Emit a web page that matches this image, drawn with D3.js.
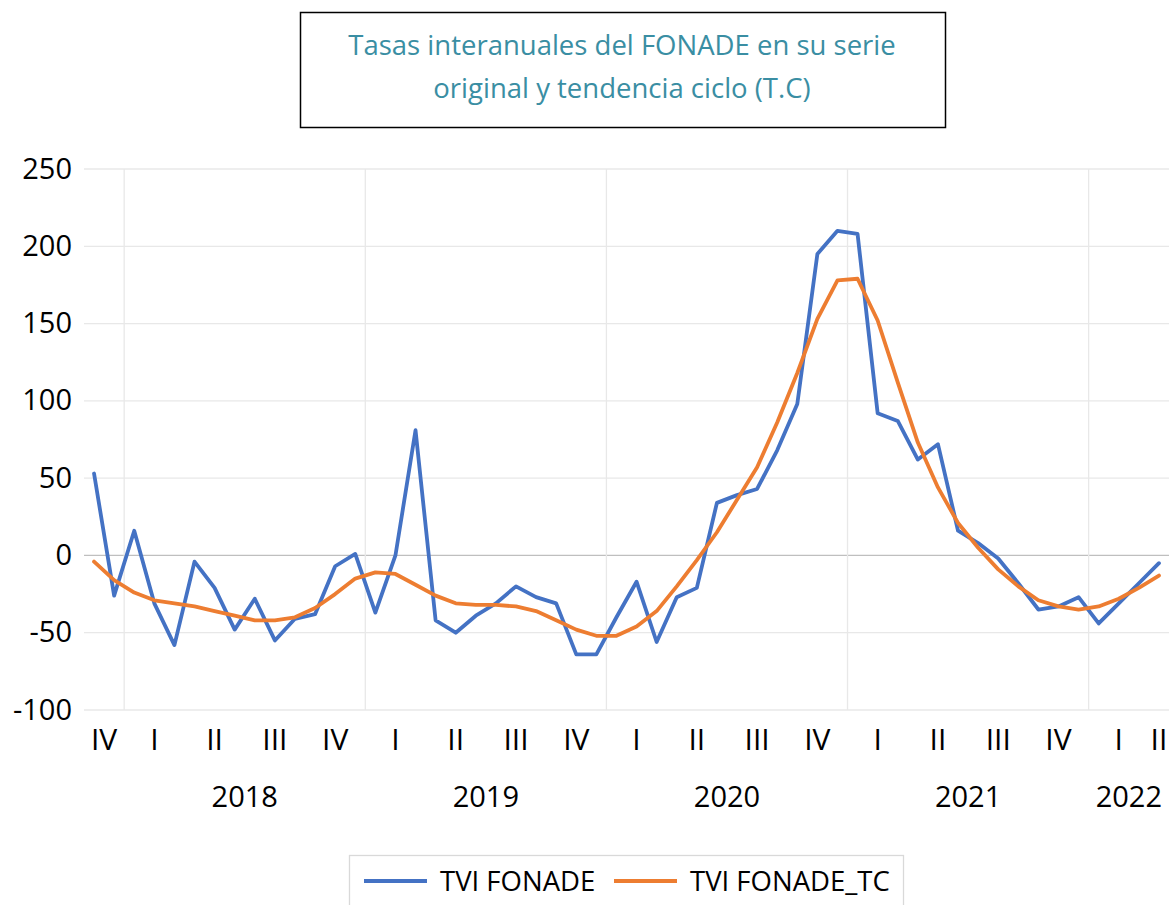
<!DOCTYPE html>
<html>
<head>
<meta charset="utf-8">
<script src="https://cdn.jsdelivr.net/npm/d3@7"></script>
<style>
  body { margin:0; background:#fff; }
  svg text { font-family:"Open Sans", "Noto Sans", sans-serif; }
</style>
</head>
<body>
<div id="chart"></div>
<script>
// monthly categories, Nov 2017 .. Apr 2022
const months = [
  "2017-11","2017-12",
  "2018-01","2018-02","2018-03","2018-04","2018-05","2018-06","2018-07","2018-08","2018-09","2018-10","2018-11","2018-12",
  "2019-01","2019-02","2019-03","2019-04","2019-05","2019-06","2019-07","2019-08","2019-09","2019-10","2019-11","2019-12",
  "2020-01","2020-02","2020-03","2020-04","2020-05","2020-06","2020-07","2020-08","2020-09","2020-10","2020-11","2020-12",
  "2021-01","2021-02","2021-03","2021-04","2021-05","2021-06","2021-07","2021-08","2021-09","2021-10","2021-11","2021-12",
  "2022-01","2022-02","2022-03","2022-04"
];
const quarterNames = ["I","II","III","IV"];
const yearTicks = ["2018","2019","2020","2021","2022"];
const yTicks = [-100,-50,0,50,100,150,200,250];

const tviFonade = [
  53,-26,
  16,-31,-58,-4,-21,-48,-28,-55,-41,-38,-7,1,
  -37,0,81,-42,-50,-39,-31,-20,-27,-31,-64,-64,
  -40,-17,-56,-27,-21,34,39,43,68,98,195,210,
  208,92,87,62,72,16,8,-2,-18,-35,-33,-27,
  -44,-31,-18,-5
];
const tviFonadeTC = [
  -4,-16,
  -24,-29,-31,-33,-36,-39,-42,-42,-40,-34,-25,-15,
  -11,-12,-19,-26,-31,-32,-32,-33,-36,-42,-48,-52,
  -52,-46,-36,-20,-3,15,36,57,86,118,153,178,
  179,152,112,73,44,21,5,-9,-20,-29,-33,-35,
  -33,-28,-21,-13
];

const W = 1175, H = 905;
const svg = d3.select("#chart").append("svg")
  .attr("width", W).attr("height", H)
  .attr("viewBox", [0,0,W,H]);

const x = d3.scaleBand().domain(months).range([84, 1169]).paddingInner(0).paddingOuter(0);
const y = d3.scaleLinear().domain([-100, 250]).range([710, 169]);
const cx = m => x(m) + x.bandwidth()/2;

//title box
svg.append("rect")
  .attr("x", 300.5).attr("y", 12.5).attr("width", 645).attr("height", 115)
  .attr("fill", "#fff").attr("stroke", "#000").attr("stroke-width", 1.5);
const title = svg.append("text")
  .attr("text-anchor", "middle").attr("fill", "#3a8ea3").attr("font-size", 27.5);
title.append("tspan").attr("x", 622).attr("y", 55).text("Tasas interanuales del FONADE en su serie");
title.append("tspan").attr("x", 622).attr("y", 98).text("original y tendencia ciclo (T.C)");

//horizontal grid
svg.append("g").selectAll("line")
  .data(yTicks)
  .join("line")
  .attr("x1", 84).attr("x2", 1169)
  .attr("y1", d => y(d)).attr("y2", d => y(d))
  .attr("stroke", d => d === 0 ? "#bfbfbf" : "#e8e8e8")
  .attr("stroke-width", 1.3);

// year groups and quarter groups
const yearGroups = d3.groups(months, m => m.slice(0,4));
const quarterGroups = d3.groups(months, m => m.slice(0,4) + "Q" + Math.floor((+m.slice(5)-1)/3));

//vertical grid at year boundaries
svg.append("g").selectAll("line")
  .data(yearGroups.filter(g => yearTicks.includes(g[0])))
  .join("line")
  .attr("x1", g => x(g[1][0])).attr("x2", g => x(g[1][0]))
  .attr("y1", y(250)).attr("y2", y(-100))
  .attr("stroke", "#e8e8e8").attr("stroke-width", 1.3);

//y axis labels
svg.append("g").selectAll("text")
  .data(yTicks)
  .join("text")
  .attr("x", 72).attr("y", d => y(d))
  .attr("dy", "0.33em")
  .attr("text-anchor", "end")
  .attr("font-size", 29)
  .attr("fill", "#000")
  .text(d => d);

//quarter labels
svg.append("g").selectAll("text")
  .data(quarterGroups)
  .join("text")
  .attr("x", g => (x(g[1][0]) + x(g[1][g[1].length-1]) + x.bandwidth())/2)
  .attr("y", 750)
  .attr("text-anchor", "middle")
  .attr("font-size", 30)
  .text(g => quarterNames[+g[0].slice(-1)]);

//year labels
svg.append("g").selectAll("text")
  .data(yearGroups.filter(g => yearTicks.includes(g[0])))
  .join("text")
  .attr("x", g => (x(g[1][0]) + x(g[1][g[1].length-1]) + x.bandwidth())/2)
  .attr("y", 807)
  .attr("text-anchor", "middle")
  .attr("font-size", 29)
  .text(g => g[0]);

//lines
const series = [
  { name:"TVI FONADE", values:tviFonade, color:"#4472C4" },
  { name:"TVI FONADE_TC", values:tviFonadeTC, color:"#ED7D31" }
];
const line = d3.line().x((d,i) => cx(months[i])).y(d => y(d));
svg.append("g").selectAll("path")
  .data(series)
  .join("path")
  .attr("d", s => line(s.values))
  .attr("fill", "none")
  .attr("stroke", s => s.color)
  .attr("stroke-width", 3.8)
  .attr("stroke-linejoin", "round")
  .attr("stroke-linecap", "round");

//legend
const lg = svg.append("g");
lg.append("rect")
  .attr("x", 349.5).attr("y", 855.5).attr("width", 554).attr("height", 60)
  .attr("fill", "#fff").attr("stroke", "#d9d9d9").attr("stroke-width", 1.3);
const legendX = [364, 614];
series.forEach((s,i) => {
  lg.append("line")
    .attr("x1", legendX[i]).attr("x2", legendX[i] + 63)
    .attr("y1", 881).attr("y2", 881)
    .attr("stroke", s.color).attr("stroke-width", 3.8);
  lg.append("text")
    .attr("x", legendX[i] + 76).attr("y", 881)
    .attr("dy", "0.35em")
    .attr("font-size", 27.5)
    .text(s.name);
});
</script>
</body>
</html>
